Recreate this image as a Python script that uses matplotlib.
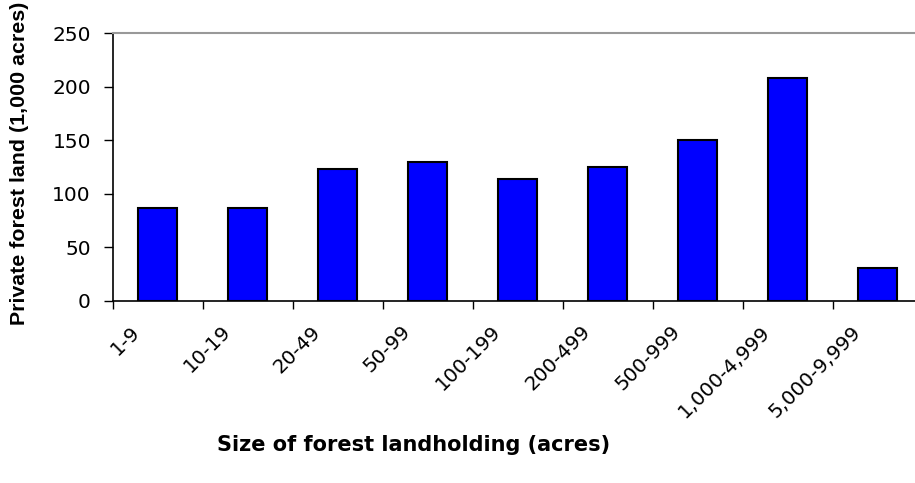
import matplotlib
matplotlib.use("Agg")
import matplotlib.pyplot as plt
from matplotlib.transforms import ScaledTranslation
import numpy as np

categories = ["1-9", "10-19", "20-49", "50-99", "100-199", "200-499",
              "500-999", "1,000-4,999", "5,000-9,999"]
values = [87, 87, 123, 130, 114, 125, 150, 208, 31]
yticks = [0, 50, 100, 150, 200, 250]

plt.rcParams['font.family'] = ['DejaVu Sans']

W, H = 915, 483
fig = plt.figure(figsize=(W / 100, H / 100), dpi=100)
left, right, bottom, top = 112.7, 922.7, 301, 33.3
ax = fig.add_axes([left / W, (H - bottom) / H, (right - left) / W, (bottom - top) / H])

x = np.arange(len(categories))
ax.bar(x, values, width=0.43, color='#0000FF', edgecolor='black', linewidth=1.5, zorder=3)

ax.set_xlim(-0.5, len(categories) - 0.5)
ax.set_ylim(0, 250)
ax.set_yticks(yticks)
ax.set_yticklabels([str(v) for v in yticks], fontsize=14.5)
ax.tick_params(axis='y', direction='out', length=6.7, width=1, pad=9, color='black')

ax.set_xticks(np.arange(len(categories) + 1) - 0.5)
ax.set_xticklabels([])
ax.tick_params(axis='x', which='major', direction='out', length=6, width=1, color='black')
ax.set_xticks(x, minor=True)
ax.set_xticklabels(categories, minor=True, fontsize=14.3, rotation=45, ha='right',
                   va='top', rotation_mode='anchor')
ax.tick_params(axis='x', which='minor', length=0, pad=0)
offset = ScaledTranslation(-27 / 100, -21 / 100, fig.dpi_scale_trans)
for lab in ax.get_xticklabels(minor=True):
    lab.set_transform(lab.get_transform() + offset)

for s in ['left', 'bottom']:
    ax.spines[s].set_color('black')
    ax.spines[s].set_linewidth(1.2)
ax.spines['top'].set_color('#999999')
ax.spines['top'].set_linewidth(1.5)
ax.spines['right'].set_visible(False)

fig.text(414 / W, 1 - 445 / H, "Size of forest landholding (acres)", fontsize=15,
         fontweight='bold', ha='center', va='center')
fig.text(20 / W, 1 - 163 / H, "Private forest land (1,000 acres)", fontsize=15.4,
         fontweight='bold', ha='center', va='center', rotation=90,
         family=['Liberation Sans', 'DejaVu Sans'])

fig.savefig("out.png", dpi=100)
